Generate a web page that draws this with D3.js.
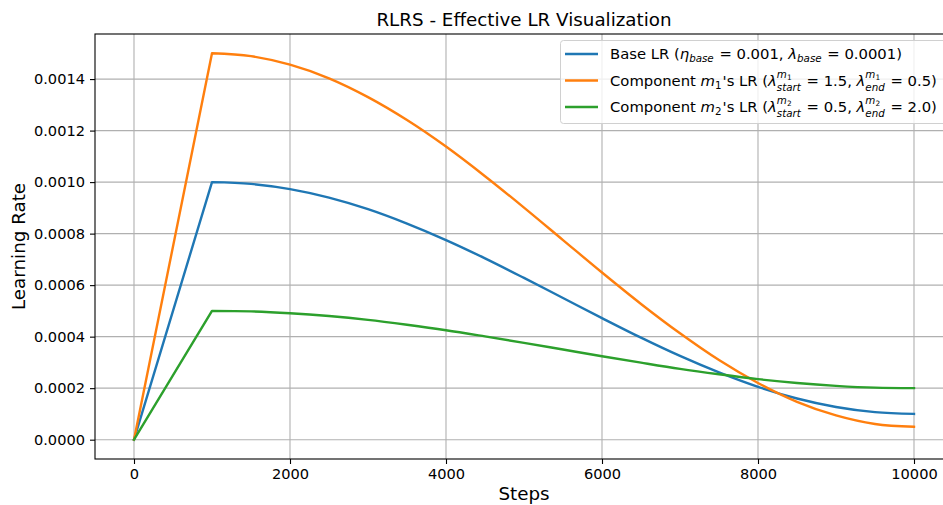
<!DOCTYPE html>
<html>
<head>
<meta charset="utf-8">
<script src="https://cdn.jsdelivr.net/npm/d3@7"></script>
<style>
  body { margin: 0; background: #fff; }
  svg { display: block; font-family: "DejaVu Sans", sans-serif; }
  text { white-space: pre; }
</style>
</head>
<body>
<svg id="chart" width="943" height="505"></svg>
<script>
"use strict";

// values (every 500 steps)
const steps = [0, 1000, 1500, 2000, 2500, 3000, 3500, 4000, 4500, 5000, 5500,
    6000, 6500, 7000, 7500, 8000, 8500, 9000, 9500, 10000];
const baseLR = [0, 0.001, 0.000993, 0.000973, 0.00094, 0.000895, 0.000839, 0.000775,
    0.000704, 0.000628, 0.00055, 0.000472, 0.000396, 0.000325, 0.000261, 0.000205,
    0.00016, 0.000127, 0.000107, 0.0001];
const m1LR = [0, 0.0015, 0.001489, 0.001456, 0.001403, 0.00133, 0.001241, 0.001138,
    0.001023, 0.000901, 0.000775, 0.000649, 0.000527, 0.000413, 0.000309, 0.00022,
    0.000147, 0.000094, 0.000061, 0.00005];
const m2LR = [0, 0.0005, 0.000498, 0.000491, 0.00048, 0.000465, 0.000446, 0.000425,
    0.000401, 0.000376, 0.00035, 0.000324, 0.000299, 0.000275, 0.000254, 0.000235,
    0.00022, 0.000209, 0.000202, 0.0002];

const xTicks = [0, 2000, 4000, 6000, 8000, 10000];
const yTicks = [0, 0.0002, 0.0004, 0.0006, 0.0008, 0.001, 0.0012, 0.0014];

const series = [
    { values: baseLR, color: "#1f77b4" },
    { values: m1LR, color: "#ff7f0e" },
    { values: m2LR, color: "#2ca02c" }
];

const svg = d3.select("#chart");
const axL = 95, axR = 953, axT = 34, axB = 459;

const x = d3.scaleLinear().domain([-500, 10500]).range([axL, axR]);
const y = d3.scaleLinear().domain([-0.000075, 0.001575]).range([axB, axT]);

// grid
const grid = svg.append("g").attr("stroke", "#b0b0b0").attr("stroke-width", 1.1);
xTicks.forEach(t => {
    grid.append("line").attr("x1", x(t)).attr("x2", x(t)).attr("y1", axT).attr("y2", axB);
});
yTicks.forEach(t => {
    grid.append("line").attr("x1", axL).attr("x2", axR).attr("y1", y(t)).attr("y2", y(t));
});

// lines: straight warmup, smooth decay
const warmLine = d3.line().x(d => x(d[0])).y(d => y(d[1]));
const decayLine = d3.line().curve(d3.curveMonotoneX).x(d => x(d[0])).y(d => y(d[1]));

series.forEach(s => {
    const pts = steps.map((st, i) => [st, s.values[i]]);
    const warm = pts.filter(p => p[0] <= 1000);
    const decay = pts.filter(p => p[0] >= 1000);
    const d = warmLine(warm) + decayLine(decay).replace(/^M/, "L");
    svg.append("path")
        .attr("d", d)
        .attr("fill", "none")
        .attr("stroke", s.color)
        .attr("stroke-width", 2.4)
        .attr("stroke-linejoin", "round")
        .attr("stroke-linecap", "square");
});

// axes
const xAxis = svg.append("g")
    .attr("transform", `translate(0,${axB})`)
    .call(d3.axisBottom(x).tickValues(xTicks).tickFormat(d3.format("d")).tickSize(5).tickSizeOuter(0).tickPadding(5));
const yAxis = svg.append("g")
    .attr("transform", `translate(${axL},0)`)
    .call(d3.axisLeft(y).tickValues(yTicks).tickFormat(d3.format(".4f")).tickSize(5).tickSizeOuter(0).tickPadding(5));

[xAxis, yAxis].forEach(a => {
    a.select(".domain").remove();
    a.selectAll("line").attr("stroke", "#000").attr("stroke-width", 1.1);
    a.selectAll("text")
        .attr("fill", "#000")
        .style("font-family", "'DejaVu Sans', sans-serif")
        .style("font-size", "14.6px");
});

// spines
svg.append("rect")
    .attr("x", axL).attr("y", axT)
    .attr("width", axR - axL).attr("height", axB - axT)
    .attr("fill", "none").attr("stroke", "#000").attr("stroke-width", 1.1);

// titles
svg.append("text")
    .attr("x", (axL + axR) / 2).attr("y", 25.5)
    .attr("text-anchor", "middle")
    .style("font-size", "18.3px")
    .text("RLRS - Effective LR Visualization");
svg.append("text")
    .attr("x", (axL + axR) / 2).attr("y", 500)
    .attr("text-anchor", "middle")
    .style("font-size", "18.3px")
    .text("Steps");
svg.append("text")
    .attr("transform", `translate(25,${(axT + axB) / 2}) rotate(-90)`)
    .attr("text-anchor", "middle")
    .style("font-size", "18.3px")
    .text("Learning Rate");

// legend
const legend = svg.append("g");
legend.append("rect")
    .attr("x", 560.5).attr("y", 40.5)
    .attr("width", 386).attr("height", 83)
    .attr("rx", 3)
    .attr("fill", "#fff").attr("fill-opacity", 0.8)
    .attr("stroke", "#d0d0d0").attr("stroke-width", 1);

const FS = 14.8, SS = 10.3, TS = 7.4;
const T = (t, size) => ({ t, size: size || FS });
const I = (t, size) => ({ t, size: size || FS, i: true });

// lays out a row of text runs with sub/superscripts, returns the end x
function runs(g, x0, y0, items) {
    let cx = x0;
    items.forEach(it => {
        if (it.sup || it.sub) {
            const w1 = it.sup ? runs(g, cx, y0 - (it.supDy || 6), it.sup) - cx : 0;
            const w2 = it.sub ? runs(g, cx, y0 + (it.subDy || 4), it.sub) - cx : 0;
            cx += Math.max(w1, w2) + 1;
        } else {
            const t = g.append("text")
                .attr("x", cx).attr("y", y0)
                .style("font-size", it.size + "px")
                .style("font-style", it.i ? "italic" : "normal")
                .text(it.t);
            cx += t.node().getComputedTextLength();
        }
    });
    return cx;
}

const supM = n => [I("m", SS), { sub: [T(n, TS)], subDy: 2 }];
const rows = [
    [T("Base LR ("), I("η"), { sub: [I("base", SS)], subDy: 3 }, T(" = 0.001, "),
        I("λ"), { sub: [I("base", SS)], subDy: 3 }, T(" = 0.0001)")],
    [T("Component "), I("m"), { sub: [T("1", SS)], subDy: 3 }, T("'s LR ("),
        I("λ"), { sup: supM("1"), sub: [I("start", SS)], supDy: 8, subDy: 5 }, T(" = 1.5, "),
        I("λ"), { sup: supM("1"), sub: [I("end", SS)], supDy: 8, subDy: 5 }, T(" = 0.5)")],
    [T("Component "), I("m"), { sub: [T("2", SS)], subDy: 3 }, T("'s LR ("),
        I("λ"), { sup: supM("2"), sub: [I("start", SS)], supDy: 8, subDy: 5 }, T(" = 0.5, "),
        I("λ"), { sup: supM("2"), sub: [I("end", SS)], supDy: 8, subDy: 5 }, T(" = 2.0)")]
];

rows.forEach((r, i) => {
    const cy = 54 + i * 26.5;
    legend.append("line")
        .attr("x1", 565).attr("x2", 598)
        .attr("y1", cy).attr("y2", cy)
        .attr("stroke", series[i].color).attr("stroke-width", 2.4);
    runs(legend, 610, cy + 5, r);
});
</script>
</body>
</html>
